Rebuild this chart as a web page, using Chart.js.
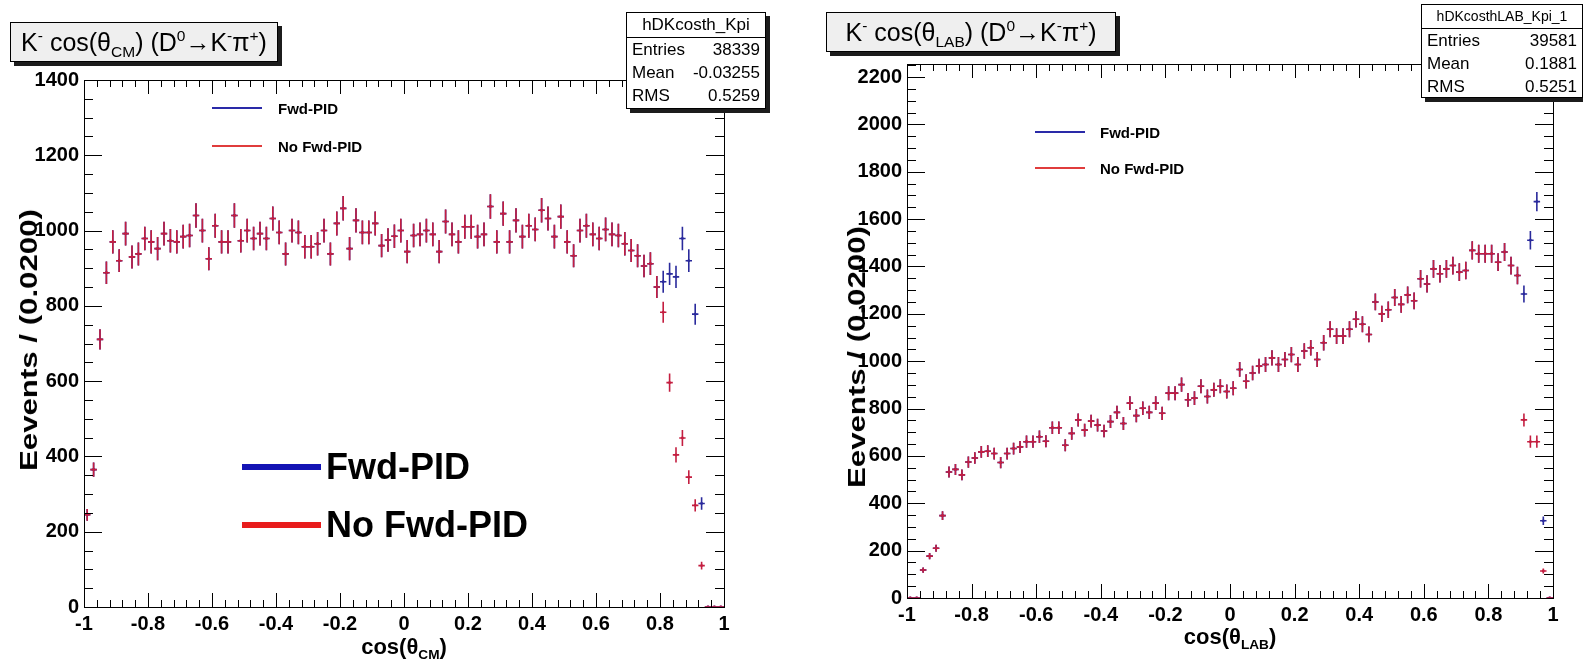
<!DOCTYPE html>
<html>
<head>
<meta charset="utf-8">
<script src="https://cdn.jsdelivr.net/npm/chart.js@4.4.1/dist/chart.umd.min.js"></script>
<style>
  html, body { margin: 0; padding: 0; background: #fff; }
  body { width: 1583px; height: 659px; position: relative; overflow: hidden;
         font-family: 'Liberation Sans', Arial, sans-serif; color: #000; }
  canvas { position: absolute; top: 0; }
  sup, sub { font-size: 62%; line-height: 0; }
  sup { vertical-align: 0.62em; }
  sub { vertical-align: -0.38em; }

  .pave { position: absolute; border: 1px solid #000; box-shadow: 4px 4px 0 #1c1c1c; box-sizing: border-box; }
  .title { background: #efefef; font-size: 25px; text-align: center; white-space: nowrap; }
  .stats { background: #fff; font-size: 17px; }
  .stats .hdr { text-align: center; border-bottom: 1px solid #000; white-space: nowrap; }
  .stats .row { display: flex; justify-content: space-between; padding: 0 5px; }

  .ytitle { position: absolute; font-size: 24px; font-weight: bold; white-space: nowrap;
            transform: translate(-50%, -50%) rotate(-90deg) scaleX(1.3); }
  .xtitle { position: absolute; font-size: 22px; font-weight: bold; white-space: nowrap;
            transform: translate(-50%, -50%); }

  .leg { position: absolute; font-weight: bold; white-space: nowrap; }
  .leg .ln { position: absolute; }
  .leg .tx { position: absolute; transform: translateY(-50%); }
</style>
</head>
<body>

<canvas id="cmChart" width="800" height="659" style="left:0"></canvas>
<canvas id="labChart" width="783" height="659" style="left:800px"></canvas>

<!-- left pad: CM frame -->
<div class="pave title" style="left:10px;top:22px;width:268px;height:40px;line-height:38px">K<sup>-</sup> cos(θ<sub>CM</sub>) (D<sup>0</sup>→K<sup>-</sup>π<sup>+</sup>)</div>
<div class="pave stats" style="left:626px;top:12px;width:140px;height:97px">
  <div class="hdr" style="height:24px;line-height:24px">hDKcosth_Kpi</div>
  <div class="row" style="height:23px;line-height:23px"><span>Entries</span><span>38339</span></div>
  <div class="row" style="height:23px;line-height:23px"><span>Mean</span><span>-0.03255</span></div>
  <div class="row" style="height:23px;line-height:23px"><span>RMS</span><span>0.5259</span></div>
</div>
<div class="ytitle" style="left:29px;top:340px">Eevents / (0.0200)</div>
<div class="xtitle" style="left:404px;top:647px">cos(θ<sub>CM</sub>)</div>

<div class="leg" style="left:0;top:0;font-size:15px">
  <div class="ln" style="left:212px;top:107px;width:50px;height:2px;background:#2a2aa8"></div>
  <div class="tx" style="left:278px;top:108px">Fwd-PID</div>
  <div class="ln" style="left:212px;top:145px;width:50px;height:2px;background:#e03c3c"></div>
  <div class="tx" style="left:278px;top:146px">No Fwd-PID</div>
</div>

<div class="leg" style="left:0;top:0;font-size:36px">
  <div class="ln" style="left:242px;top:464px;width:79px;height:6px;background:#1414b4"></div>
  <div class="tx" style="left:326px;top:467px">Fwd-PID</div>
  <div class="ln" style="left:242px;top:522px;width:79px;height:6px;background:#e81c1c"></div>
  <div class="tx" style="left:326px;top:525px">No Fwd-PID</div>
</div>

<!-- right pad: LAB frame -->
<div class="pave title" style="left:826px;top:12px;width:290px;height:40px;line-height:38px">K<sup>-</sup> cos(θ<sub>LAB</sub>) (D<sup>0</sup>→K<sup>-</sup>π<sup>+</sup>)</div>
<div class="pave stats" style="left:1421px;top:4px;width:162px;height:94px">
  <div class="hdr" style="height:23px;line-height:23px;font-size:14px">hDKcosthLAB_Kpi_1</div>
  <div class="row" style="height:23px;line-height:23px"><span>Entries</span><span>39581</span></div>
  <div class="row" style="height:23px;line-height:23px"><span>Mean</span><span>0.1881</span></div>
  <div class="row" style="height:23px;line-height:23px"><span>RMS</span><span>0.5251</span></div>
</div>
<div class="ytitle" style="left:857px;top:357px">Eevents / (0.0200)</div>
<div class="xtitle" style="left:1230px;top:637px">cos(θ<sub>LAB</sub>)</div>

<div class="leg" style="left:0;top:0;font-size:15px">
  <div class="ln" style="left:1035px;top:131px;width:50px;height:2px;background:#2a2aa8"></div>
  <div class="tx" style="left:1100px;top:132px">Fwd-PID</div>
  <div class="ln" style="left:1035px;top:167px;width:50px;height:2px;background:#e03c3c"></div>
  <div class="tx" style="left:1100px;top:168px">No Fwd-PID</div>
</div>

<script>
// histogram binning: 100 bins of 0.02 over cos(theta) in [-1, 1]
const BIN_LO = -1;
const BIN_W = 0.02;
const N_BINS = 100;
const binCenters = Array.from({ length: N_BINS }, (_, i) => +(BIN_LO + BIN_W * (i + 0.5)).toFixed(2));

const cosTicks = [-1, -0.8, -0.6, -0.4, -0.2, 0, 0.2, 0.4, 0.6, 0.8, 1];
const cmCountTicks = [0, 200, 400, 600, 800, 1000, 1200, 1400];
const labCountTicks = [0, 200, 400, 600, 800, 1000, 1200, 1400, 1600, 1800, 2000, 2200];

// K- cos(theta_CM), events per bin
const cmFwdPid = [
  245, 365, 711, 888, 970, 920, 992, 930, 938, 979,
  970, 952, 992, 973, 970, 984, 987, 1040, 1000, 925,
  1013, 970, 970, 1040, 973, 1000, 979, 992, 979, 1032,
  995, 938, 1000, 995, 957, 957, 965, 1000, 938, 1019,
  1059, 952, 1027, 995, 995, 1019, 960, 975, 985, 1000,
  944, 987, 990, 1000, 990, 944, 1024, 990, 970, 1010,
  1010, 984, 990, 1064, 970, 1045, 970, 1027, 984, 1013,
  1003, 1054, 1032, 984, 1037, 970, 933, 1000, 1013, 990,
  979, 1003, 990, 987, 965, 947, 933, 906, 912, 850,
  864, 885, 877, 979, 920, 778, 275, 0, 0, 0
];
const cmNoFwdPid = [
  245, 365, 711, 888, 970, 920, 992, 930, 938, 979,
  970, 952, 992, 973, 970, 984, 987, 1040, 1000, 925,
  1013, 970, 970, 1040, 973, 1000, 979, 992, 979, 1032,
  995, 938, 1000, 995, 957, 957, 965, 1000, 938, 1019,
  1059, 952, 1027, 995, 995, 1019, 960, 975, 985, 1000,
  944, 987, 990, 1000, 990, 944, 1024, 990, 970, 1010,
  1010, 984, 990, 1064, 970, 1045, 970, 1027, 984, 1013,
  1003, 1054, 1032, 984, 1037, 970, 933, 1000, 1013, 990,
  979, 1003, 990, 987, 965, 947, 933, 906, 912, 850,
  783, 596, 404, 449, 345, 270, 110, 0, 0, 0
];

// K- cos(theta_LAB), events per bin
const labFwdPid = [
  0, 0, 118, 177, 210, 348, 532, 543, 520, 574,
  591, 617, 620, 610, 572, 610, 631, 638, 660, 660,
  681, 662, 719, 719, 645, 695, 752, 709, 747, 730,
  705, 745, 784, 737, 823, 770, 801, 784, 823, 780,
  865, 865, 901, 837, 844, 894, 851, 879, 894, 872,
  886, 965, 915, 950, 979, 986, 1014, 986, 1007, 1028,
  986, 1043, 1057, 1007, 1078, 1135, 1106, 1106, 1135, 1177,
  1156, 1113, 1250, 1200, 1217, 1269, 1240, 1280, 1255, 1348,
  1326, 1390, 1369, 1390, 1404, 1376, 1383, 1468, 1454, 1454,
  1454, 1418, 1461, 1404, 1362, 1284, 1511, 1674, 326, 0
];
const labNoFwdPid = [
  0, 0, 118, 177, 210, 348, 532, 543, 520, 574,
  591, 617, 620, 610, 572, 610, 631, 638, 660, 660,
  681, 662, 719, 719, 645, 695, 752, 709, 747, 730,
  705, 745, 784, 737, 823, 770, 801, 784, 823, 780,
  865, 865, 901, 837, 844, 894, 851, 879, 894, 872,
  886, 965, 915, 950, 979, 986, 1014, 986, 1007, 1028,
  986, 1043, 1057, 1007, 1078, 1135, 1106, 1106, 1135, 1177,
  1156, 1113, 1250, 1200, 1217, 1269, 1240, 1280, 1255, 1348,
  1326, 1390, 1369, 1390, 1404, 1376, 1383, 1468, 1454, 1454,
  1454, 1418, 1461, 1404, 1362, 752, 660, 660, 114, 0
];

const BLUE = '#2a2a9c';
const RED = '#c41e40';

Chart.defaults.font.family = "'Liberation Sans', Arial, sans-serif";
Chart.defaults.color = '#000';

const toPoints = counts => counts.map((n, i) => ({ x: binCenters[i], y: n }));
const onStep = (v, step) => Math.abs(v / step - Math.round(v / step)) < 1e-6;

// sqrt(N) vertical error and bin-width horizontal bar for every point
const errorBars = {
  id: 'errorBars',
  afterDatasetsDraw(chart) {
    const { ctx, chartArea: a, scales: { x, y } } = chart;
    ctx.save();
    ctx.beginPath();
    ctx.rect(a.left, a.top, a.right - a.left, a.bottom - a.top);
    ctx.clip();
    ctx.lineWidth = 1.6;
    // blue first, red on top
    [...chart.data.datasets].sort((p, q) => q.order - p.order).forEach(ds => {
      ctx.strokeStyle = ds.borderColor;
      ctx.beginPath();
      ds.data.forEach(p => {
        const err = Math.sqrt(p.y);
        const px = x.getPixelForValue(p.x);
        const py = y.getPixelForValue(p.y);
        ctx.moveTo(x.getPixelForValue(p.x - BIN_W / 2), py);
        ctx.lineTo(x.getPixelForValue(p.x + BIN_W / 2), py);
        ctx.moveTo(px, y.getPixelForValue(p.y - err));
        ctx.lineTo(px, y.getPixelForValue(p.y + err));
      });
      ctx.stroke();
    });
    ctx.restore();
  }
};

// ROOT style frame: box plus inward ticks on all four sides
const rootFrame = {
  id: 'rootFrame',
  afterDraw(chart, args, o) {
    const { ctx, chartArea: a, scales: { x, y } } = chart;
    ctx.save();
    ctx.strokeStyle = '#000';
    ctx.lineWidth = 1;
    ctx.strokeRect(Math.round(a.left) + 0.5, Math.round(a.top) + 0.5,
                   Math.round(a.right - a.left), Math.round(a.bottom - a.top));
    ctx.beginPath();
    const nx = Math.round((x.max - x.min) / o.xMinor);
    for (let i = 0; i <= nx; i++) {
      const v = x.min + i * o.xMinor;
      const len = onStep(v, o.xMajor) ? o.xMajorLen : o.xMinorLen;
      const px = Math.round(x.getPixelForValue(v)) + 0.5;
      ctx.moveTo(px, a.bottom); ctx.lineTo(px, a.bottom - len);
      ctx.moveTo(px, a.top); ctx.lineTo(px, a.top + len);
    }
    const ny = Math.floor((y.max - y.min) / o.yMinor + 1e-6);
    for (let i = 0; i <= ny; i++) {
      const v = y.min + i * o.yMinor;
      const len = onStep(v, o.yMajor) ? o.yMajorLen : o.yMinorLen;
      const py = Math.round(y.getPixelForValue(v)) + 0.5;
      ctx.moveTo(a.left, py); ctx.lineTo(a.left + len, py);
      ctx.moveTo(a.right, py); ctx.lineTo(a.right - len, py);
    }
    ctx.stroke();
    ctx.restore();
  }
};

const tickFont = { size: 20, weight: 'bold' };

function makePlot(id, fwd, noFwd, yMax, yTicks, pad) {
  return new Chart(document.getElementById(id), {
    type: 'scatter',
    data: {
      datasets: [
        { label: 'No Fwd-PID', data: toPoints(noFwd), order: 0,
          borderColor: RED, backgroundColor: RED },
        { label: 'Fwd-PID', data: toPoints(fwd), order: 1,
          borderColor: BLUE, backgroundColor: BLUE }
      ]
    },
    options: {
      responsive: false,
      animation: false,
      devicePixelRatio: 1,
      layout: { padding: pad },
      elements: { point: { radius: 1.4, borderWidth: 0 } },
      plugins: {
        legend: { display: false },
        tooltip: { enabled: false },
        rootFrame: {
          xMajor: 0.2, xMinor: 0.04, xMajorLen: 14, xMinorLen: 7,
          yMajor: 200, yMinor: 50, yMajorLen: 18, yMinorLen: 9
        }
      },
      scales: {
        x: {
          type: 'linear', min: -1, max: 1,
          afterBuildTicks: s => { s.ticks = cosTicks.map(v => ({ value: v })); },
          afterFit: s => { s.height = 40; },
          grid: { display: false, drawTicks: false },
          border: { display: false },
          ticks: { font: tickFont, padding: 5, maxRotation: 0, autoSkip: false,
                   callback: v => String(v) }
        },
        y: {
          type: 'linear', min: 0, max: yMax,
          afterBuildTicks: s => { s.ticks = yTicks.map(v => ({ value: v })); },
          afterFit: s => { s.width = 70; },
          grid: { display: false, drawTicks: false },
          border: { display: false },
          ticks: { font: tickFont, padding: 5, autoSkip: false,
                   callback: v => String(v) }
        }
      }
    },
    plugins: [errorBars, rootFrame]
  });
}

makePlot('cmChart', cmFwdPid, cmNoFwdPid, 1400, cmCountTicks,
         { left: 14, right: 76, top: 80, bottom: 12 });
makePlot('labChart', labFwdPid, labNoFwdPid, 2255, labCountTicks,
         { left: 37, right: 30, top: 64, bottom: 21 });
</script>
</body>
</html>
